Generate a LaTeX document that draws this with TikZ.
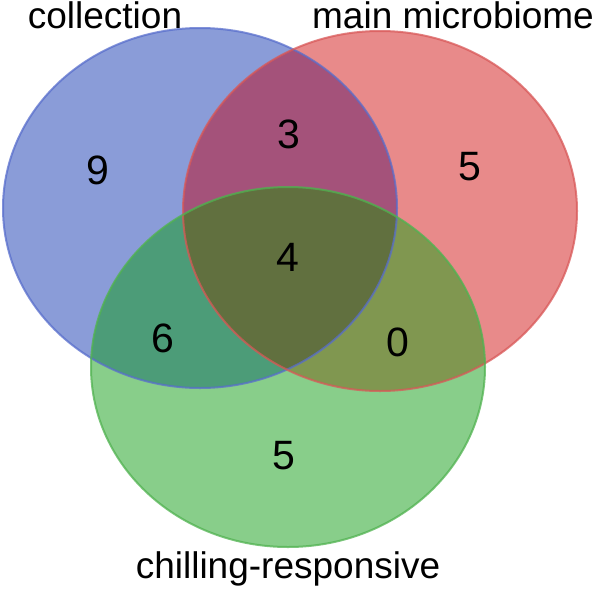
\documentclass[tikz,border=0pt]{standalone}
\usepackage{fontspec}
\setmainfont{Liberation Sans}
\definecolor{cB}{RGB}{138,156,216}
\definecolor{cR}{RGB}{232,138,138}
\definecolor{cG}{RGB}{136,206,138}
\definecolor{cBR}{RGB}{164,82,122}
\definecolor{cBG}{RGB}{76,156,120}
\definecolor{cRG}{RGB}{128,151,80}
\definecolor{cBRG}{RGB}{97,112,63}
\definecolor{eB}{RGB}{88,110,204}
\definecolor{eR}{RGB}{216,88,88}
\definecolor{eG}{RGB}{80,178,80}
\tikzset{
  num/.style={font=\fontsize{41}{41}\selectfont, inner sep=0pt},
  lab/.style={font=\fontsize{37}{37}\selectfont, inner sep=0pt, anchor=base},
  edge/.style={line width=2pt, draw opacity=0.75}
}
\def\blueE{(200,208) ellipse [x radius=197, y radius=180]}
\def\redE{(380,211) ellipse [x radius=197, y radius=180]}
\def\greenE{(288,367) ellipse [x radius=197, y radius=180]}
\begin{document}
\begin{tikzpicture}[x=1pt,y=-1pt]
\useasboundingbox (0,0) rectangle (596,592);
\fill[cB] \blueE;
\fill[cR] \redE;
\fill[cG] \greenE;
\begin{scope}
  \clip \blueE;
  \fill[cBR] \redE;
  \fill[cBG] \greenE;
\end{scope}
\begin{scope}
  \clip \redE;
  \fill[cRG] \greenE;
\end{scope}
\begin{scope}
  \clip \blueE;
  \clip \redE;
  \fill[cBRG] \greenE;
\end{scope}
\draw[edge, eB] \blueE;
\draw[edge, eR] \redE;
\draw[edge, eG] \greenE;
\node[num] (n9) at (98,170) {9};
\node[num] (n3) at (289,134) {3};
\node[num] (n5r) at (470,167) {5};
\node[num] (n4) at (288,257) {4};
\node[num] (n6) at (163,338) {6};
\node[num] (n0) at (398,342) {0};
\node[num] (n5g) at (284,456) {5};
\node[lab] (lc) at (105,28) {collection};
\node[lab] (lm) at (453,28) {main microbiome};
\node[lab] (lg) at (288,578) {chilling-responsive};
\end{tikzpicture}
\end{document}
